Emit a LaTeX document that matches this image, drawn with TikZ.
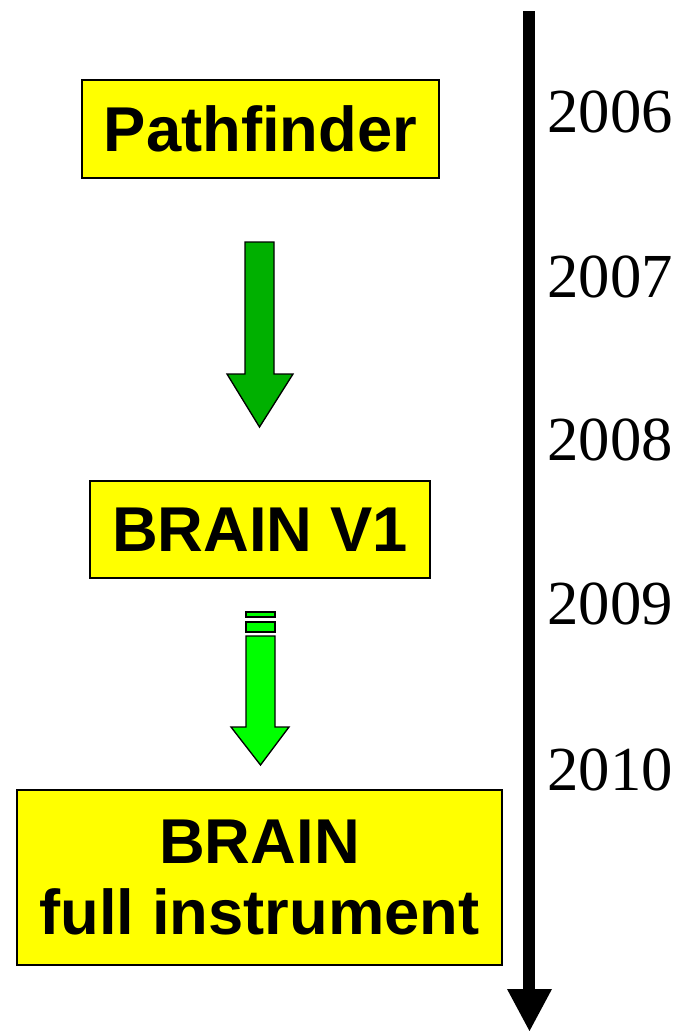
\documentclass[tikz,border=0pt]{standalone}
\usepackage{fontspec}
\setmainfont{Liberation Serif}
\newfontfamily\boxfont{Liberation Sans}
\definecolor{boxyellow}{RGB}{255,255,0}
\definecolor{darkgreenarrow}{RGB}{0,176,0}
\definecolor{lightgreenarrow}{RGB}{0,255,0}
\begin{document}
\begin{tikzpicture}[x=0.75pt,y=-0.75pt,
  stagebox/.style={draw=black,line width=1.1pt,fill=boxyellow,inner sep=0pt,
    font=\boxfont\bfseries\fontsize{47.5}{54}\selectfont,align=center},
  yearlabel/.style={inner sep=0pt,font=\fontsize{47}{50}\selectfont},
  blockarrow/.style={draw=black,line width=1pt,line join=miter}]
\useasboundingbox (0,0) rectangle (677,1031);
% timeline
\fill[black] (523,11) rectangle (535,990);
\fill[black] (507,989) -- (552,989) -- (529.5,1031) -- cycle;
% years
\node[yearlabel] (y2006) at (610,112) {2006};
\node[yearlabel] (y2007) at (610,277) {2007};
\node[yearlabel] (y2008) at (610,440) {2008};
\node[yearlabel] (y2009) at (610,604) {2009};
\node[yearlabel] (y2010) at (610,770) {2010};
% boxes
\node[stagebox,minimum width=267.75pt,minimum height=73.5pt] (pf) at (260.5,129) {Pathfinder};
\node[stagebox,minimum width=255pt,minimum height=72.75pt] (v1) at (260,529.5) {BRAIN V1};
\node[stagebox,minimum width=363.75pt,minimum height=131.25pt] (full) at (259.5,877.5) {BRAIN\\[-1pt]full instrument};
% arrow 1 (Pathfinder -> BRAIN V1)
\draw[blockarrow,fill=darkgreenarrow]
  (245,242) -- (274,242) -- (274,374) -- (293,374) -- (259.5,427) -- (227,374) -- (245,374) -- cycle;
% arrow 2 (BRAIN V1 -> full instrument)
\draw[blockarrow,fill=lightgreenarrow]
  (246,612) rectangle (275,617);
\draw[blockarrow,fill=lightgreenarrow]
  (246,622) rectangle (275,632);
\draw[blockarrow,fill=lightgreenarrow]
  (246,636) -- (275,636) -- (275,727) -- (289,727) -- (260.5,765) -- (231,727) -- (246,727) -- cycle;
\end{tikzpicture}
\end{document}
